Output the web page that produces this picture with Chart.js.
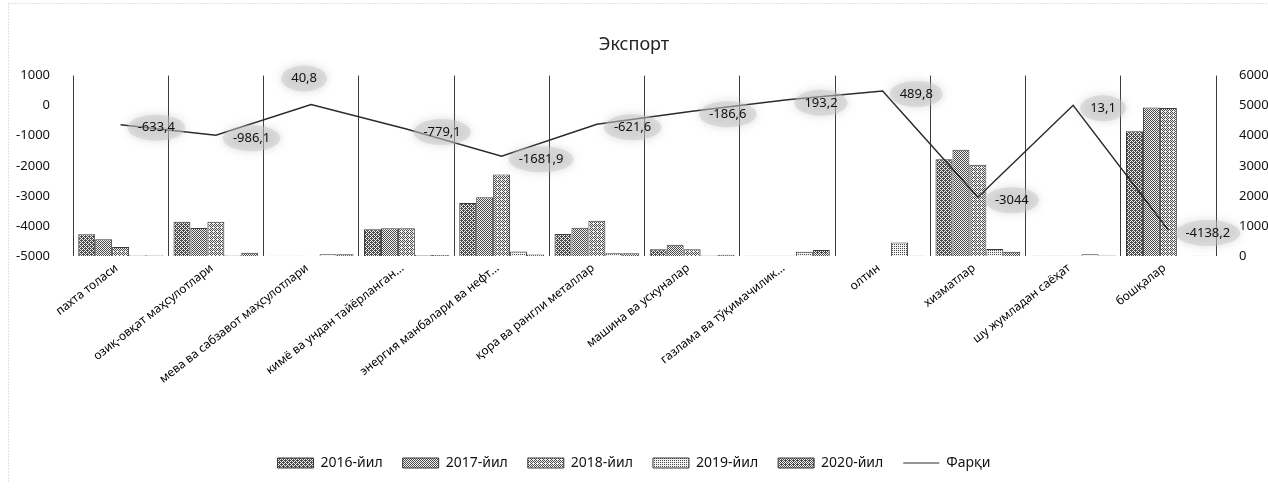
<!DOCTYPE html>
<html>
<head>
<meta charset="utf-8">
<script src="https://cdn.jsdelivr.net/npm/chart.js@4.4.1/dist/chart.umd.min.js"></script>
<style>
  html, body { margin: 0; padding: 0; background: #fff; }
</style>
</head>
<body>
<canvas id="chart" width="1268" height="488"></canvas>
<script>
const categories = [
  'пахта толаси',
  'озиқ-овқат маҳсулотлари',
  'мева ва сабзавот маҳсулотлари',
  'кимё ва ундан тайёрланган...',
  'энергия манбалари ва нефт...',
  'қора ва рангли металлар',
  'машина ва ускуналар',
  'газлама ва тўқимачилик...',
  'олтин',
  'хизматлар',
  'шу жумладан саёҳат',
  'бошқалар'
];

// bars, right axis
const y2016 = [720, 1140, 10, 890, 1760, 730, 225, 5, 0, 3220, 5, 4150];
const y2017 = [557, 930, 10, 925, 1950, 940, 376, 5, 0, 3530, 5, 4940];
const y2018 = [303, 1140, 10, 925, 2710, 1170, 225, 5, 0, 3035, 5, 4920];
const y2019 = [25, 25, 60, 30, 150, 90, 20, 140, 450, 230, 60, 10];
const y2020 = [15, 110, 55, 30, 50, 90, 40, 200, 5, 140, 18, 10];

// difference line, left axis
const farq = [-633.4, -986.1, 40.8, -779.1, -1681.9, -621.6, -186.6, 193.2, 489.8, -3044, 13.1, -4138.2];

const leftTicks = [-5000, -4000, -3000, -2000, -1000, 0, 1000];
const rightTicks = [0, 1000, 2000, 3000, 4000, 5000, 6000];

const FONT = '"Noto Sans", "DejaVu Sans", sans-serif';

// photocopy-like ordered dither fill
function dither(level) {
  const bayer = [0, 8, 2, 10, 12, 4, 14, 6, 3, 11, 1, 9, 15, 7, 13, 5];
  const c = document.createElement('canvas');
  c.width = 4; c.height = 4;
  const g = c.getContext('2d');
  for (let i = 0; i < 16; i++) {
    g.fillStyle = bayer[i] < level * 16 ? '#4a4a4a' : '#f2f2f2';
    g.fillRect(i % 4, Math.floor(i / 4), 1, 1);
  }
  return g.createPattern(c, 'repeat');
}

function barSet(label, data, level) {
  return {
    label,
    data,
    yAxisID: 'y1',
    backgroundColor: dither(level),
    borderColor: '#3a3a3a',
    borderWidth: 1,
    categoryPercentage: 0.89,
    barPercentage: 1,
    order: 1
  };
}

// faint scanned frame round the chart
const frame = {
  id: 'frame',
  beforeDraw(chart) {
    const ctx = chart.ctx;
    ctx.save();
    ctx.strokeStyle = '#c4c4c4';
    ctx.setLineDash([1, 2]);
    ctx.beginPath();
    ctx.moveTo(8.5, 3.5);
    ctx.lineTo(chart.width, 3.5);
    ctx.moveTo(8.5, 3.5);
    ctx.lineTo(8.5, chart.height - 6);
    ctx.stroke();
    ctx.restore();
  }
};

const farqLabels = {
  id: 'farqLabels',
  afterDatasetsDraw(chart) {
    const idx = chart.data.datasets.findIndex(d => d.type === 'line');
    const meta = chart.getDatasetMeta(idx);
    const ctx = chart.ctx;
    ctx.save();
    ctx.font = '13px ' + FONT;
    ctx.textBaseline = 'middle';
    ctx.textAlign = 'left';
    meta.data.forEach((pt, i) => {
      const text = String(farq[i]).replace('.', ',');
      const w = ctx.measureText(text).width;
      let x, y;
      if (i === 2) {
        x = pt.x - 7 - w / 2;
        y = pt.y - 26;
      } else {
        x = pt.x + 17;
        y = pt.y + 3;
      }
      ctx.save();
      ctx.fillStyle = 'rgba(195,195,195,0.45)';
      ctx.shadowColor = 'rgba(160,160,160,0.8)';
      ctx.shadowBlur = 10;
      ctx.beginPath();
      ctx.ellipse(x + w / 2, y, w / 2 + 10, 13, 0, 0, Math.PI * 2);
      ctx.fill();
      ctx.restore();
      ctx.fillStyle = '#111';
      ctx.fillText(text, x, y);
    });
    ctx.restore();
  }
};

new Chart(document.getElementById('chart'), {
  type: 'bar',
  data: {
    labels: categories,
    datasets: [
      barSet('2016-йил', y2016, 0.6),
      barSet('2017-йил', y2017, 0.45),
      barSet('2018-йил', y2018, 0.38),
      barSet('2019-йил', y2019, 0.2),
      barSet('2020-йил', y2020, 0.55),
      {
        type: 'line',
        label: 'Фарқи',
        data: farq,
        yAxisID: 'y',
        borderColor: '#2a2a2a',
        backgroundColor: '#2a2a2a',
        borderWidth: 1.5,
        pointRadius: 0,
        tension: 0,
        order: 0
      }
    ]
  },
  options: {
    responsive: false,
    animation: false,
    devicePixelRatio: 1,
    layout: { padding: { left: 0, right: 0, top: 0, bottom: 8 } },
    scales: {
      x: {
        offset: true,
        grid: { offset: true, color: '#3c3c3c', lineWidth: 1, drawTicks: false },
        border: { display: false },
        ticks: {
          autoSkip: false,
          minRotation: 38,
          maxRotation: 38,
          padding: 5,
          labelOffset: -4,
          color: '#000',
          font: { family: FONT, size: 12 }
        },
        afterFit: s => { s.height = 180; }
      },
      y: {
        position: 'left',
        min: leftTicks[0],
        max: leftTicks[leftTicks.length - 1],
        afterBuildTicks: s => { s.ticks = leftTicks.map(v => ({ value: v })); },
        ticks: { padding: 15, color: '#111', font: { family: FONT, size: 13 }, callback: v => String(v) },
        grid: { display: false },
        border: { display: false },
        afterFit: s => { s.width = 73; }
      },
      y1: {
        position: 'right',
        min: rightTicks[0],
        max: rightTicks[rightTicks.length - 1],
        afterBuildTicks: s => { s.ticks = rightTicks.map(v => ({ value: v })); },
        ticks: { padding: 15, color: '#111', font: { family: FONT, size: 13 }, callback: v => String(v) },
        grid: { display: false },
        border: { display: false },
        afterFit: s => { s.width = 52; }
      }
    },
    plugins: {
      title: {
        display: true,
        text: 'Экспорт',
        color: '#222',
        font: { family: FONT, size: 18, weight: 'normal' },
        padding: { top: 34, bottom: 20 }
      },
      legend: {
        position: 'bottom',
        labels: {
          usePointStyle: true,
          pointStyleWidth: 36,
          boxHeight: 10,
          padding: 20,
          color: '#111',
          font: { family: FONT, size: 14 },
          sort: (a, b) => a.datasetIndex - b.datasetIndex,
          generateLabels(chart) {
            const items = Chart.defaults.plugins.legend.labels.generateLabels(chart);
            items.forEach(it => {
              const ds = chart.data.datasets[it.datasetIndex];
              if (ds.type === 'line') {
                it.pointStyle = 'line';
                it.strokeStyle = '#2a2a2a';
                it.lineWidth = 1.2;
              } else {
                it.pointStyle = 'rect';
              }
            });
            return items;
          }
        }
      },
      tooltip: { enabled: false }
    }
  },
  plugins: [frame, farqLabels]
});
</script>
</body>
</html>
